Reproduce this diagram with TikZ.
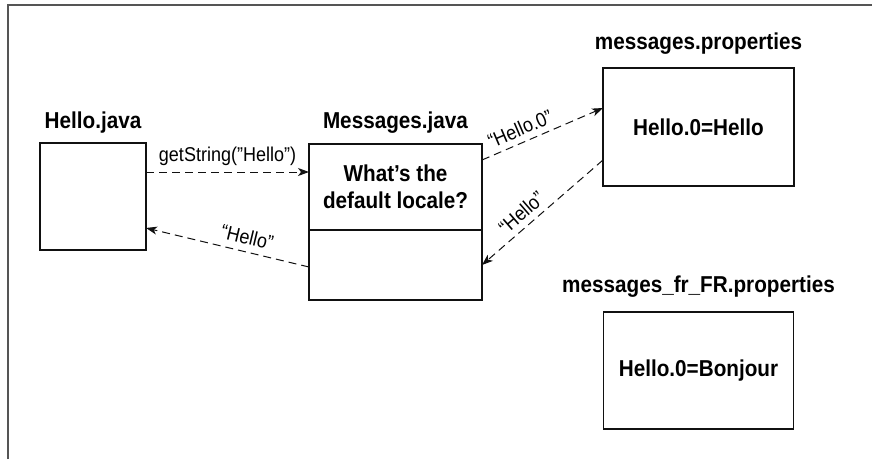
\documentclass[tikz,border=0pt]{standalone}
\usepackage{fontspec}
\setmainfont[FakeStretch=0.9]{Liberation Sans}
\usepackage{tikz}
\usetikzlibrary{arrows.meta,positioning}
\definecolor{ink}{HTML}{111111}
\definecolor{rim}{HTML}{555555}

\begin{document}
\begin{tikzpicture}[
  x=1pt,y=-1pt,
  box/.style={draw=ink,line width=1.2pt,inner sep=0pt,outer sep=0pt,align=center,font=\fontsize{23}{27}\selectfont\bfseries},
  title/.style={inner sep=0pt,font=\fontsize{23}{27}\selectfont\bfseries},
  call/.style={-{Stealth[length=11pt,width=8pt,inset=3pt]},line width=1pt,dash pattern=on 8pt off 5pt,draw=ink},
  tag/.style={font=\fontsize{20}{24}\selectfont,inner sep=2pt}
]
\useasboundingbox (0,0) rectangle (872,459);
\draw[draw=rim,line width=2pt] (8,459) -- (8,5) -- (872,5);
% classes and property files
\node[box,minimum width=106pt,minimum height=107pt] (hello) at (93,196.5) {};
\node[box,minimum width=173pt,minimum height=86pt] (msgtop) at (395.5,187) {What’s the\\default locale?};
\node[box,minimum width=173pt,minimum height=70pt,below=0pt of msgtop] (msgbot) {};
\node[box,minimum width=191pt,minimum height=118pt] (props) at (698.5,127) {Hello.0=Hello};
\node[box,minimum width=190pt,minimum height=117pt,below=126pt of props] (propsfr) {Hello.0=Bonjour};
% titles
\node[title,above=10pt of hello] (hellotitle) {Hello.java};
\node[title,above=10pt of msgtop] (msgtitle) {Messages.java};
\node[title,above=13pt of props] (propstitle) {messages.properties};
\node[title,above=14pt of propsfr] (propsfrtitle) {messages\_fr\_FR.properties};
% calls
\draw[call] ([yshift=24.5pt]hello.east) -- node[tag,above=4pt] {getString("Hello")} ([yshift=15pt]msgtop.west);
\draw[call] ([yshift=-2pt]msgbot.west) -- node[tag,above=5pt,sloped,pos=0.4] {“Hello”} ([yshift=-31.5pt]hello.east);
\draw[call] ([yshift=27pt]msgtop.east) -- node[tag,above=4pt,sloped,pos=0.36] {“Hello.0”} ([yshift=19pt]props.west);
\draw[call] ([yshift=-33pt]props.west) -- node[tag,above=4pt,sloped,pos=0.6] {“Hello”} (msgbot.east);
\end{tikzpicture}
\end{document}
